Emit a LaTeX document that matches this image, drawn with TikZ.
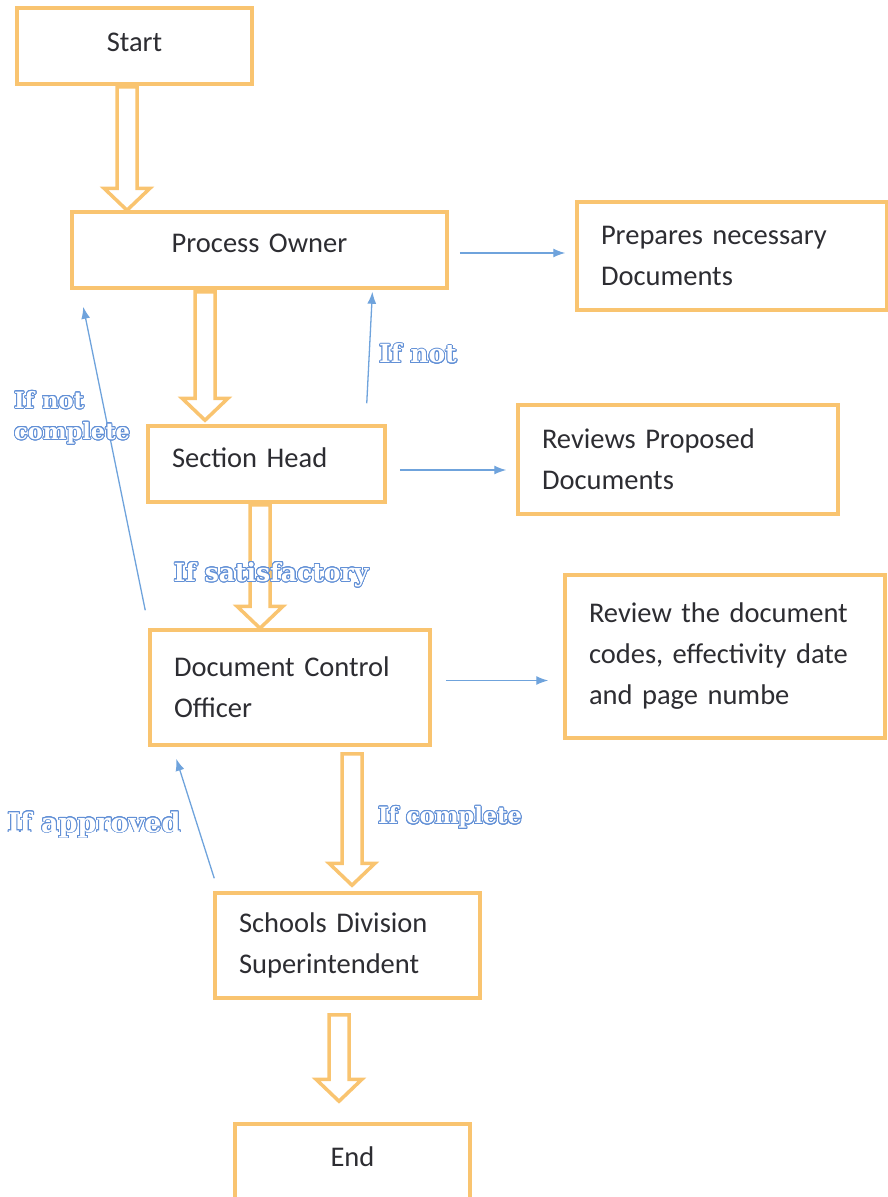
\documentclass[tikz,border=0pt]{standalone}
\usepackage{fontspec}
\setmainfont{Carlito}
\newfontfamily\outlinefont{DejaVu Serif}
\usepackage[copies]{contour}
\usetikzlibrary{arrows.meta,calc}

\definecolor{boxorange}{RGB}{249,196,112}
\definecolor{linkblue}{RGB}{111,163,220}
\definecolor{condblue}{RGB}{98,144,214}
\definecolor{textgray}{RGB}{45,45,50}

\contourlength{0.9pt}
\contournumber{24}
\newcommand{\outl}[1]{\contour{condblue}{\textcolor{white}{#1}}}

% hollow block arrow: from node, to node, x of shaft, gap at top, gap at tip
\newcommand{\fatarrow}[5]{%
  \coordinate (fa-x) at (#3,0);
  \coordinate (fa-a) at ($(#1.south -| fa-x)+(0,#4)$);
  \coordinate (fa-b) at ($(#2.north -| fa-x)+(0,-#5)$);
  \draw[fat] ($(fa-a)+(-10,0)$) -- ($(fa-b)+(-10,-22)$) -- ($(fa-b)+(-23,-22)$)
    -- (fa-b) -- ($(fa-b)+(23,-22)$) -- ($(fa-b)+(10,-22)$) -- ($(fa-a)+(10,0)$) -- cycle;
}

\tikzset{
  box/.style={draw=boxorange, line width=3.5pt, fill=white, inner xsep=24pt,
    inner ysep=0pt, text=textgray, align=left,
    font=\fontsize{28.5}{41}\selectfont},
  raised/.style={text depth=#1},
  raised/.default=12pt,
  link/.style={draw=linkblue, line width=1.3pt, -{Latex[length=12pt,width=9pt]}},
  cond/.style={font=\outlinefont\bfseries\fontsize{#1}{31}\selectfont},
  cond/.default=25,
  fat/.style={draw=boxorange, line width=3.5pt, fill=white, line join=miter},
}

\begin{document}
\begin{tikzpicture}[x=1pt, y=-1pt]
  \useasboundingbox (0,0) rectangle (888,1197);

  % boxes
  \node[box, raised=8pt, align=center, text width=187pt, minimum height=76pt] (start) at (134.5,46) {Start};
  \node[box, raised=14pt, align=center, text width=327pt, minimum height=76pt] (owner) at (259.5,250) {Process Owner};
  \node[box, text width=262pt, minimum height=108pt] (prepare) at (732,256) {Prepares necessary\\Documents};
  \node[box, raised, text width=189pt, minimum height=76pt] (head) at (266.5,464) {Section Head};
  \node[box, text width=272pt, minimum height=109pt] (review) at (678,459.5) {Reviews Proposed\\Documents};
  \node[box, text width=232pt, minimum height=115pt] (dco) at (290,687.5) {Document Control\\Officer};
  \node[box, text width=272pt, minimum height=163pt] (codes) at (725,656.5) {Review the document\\codes, effectivity date\\and page numbe};
  \node[box, text width=217pt, minimum height=105pt] (sds) at (347.5,945.5) {Schools Division\\Superintendent};
  \node[box, raised=10pt, align=center, text width=187pt, minimum height=76pt] (end) at (352.5,1162) {End};

  % main flow
  \fatarrow{start}{owner}{127}{1}{0}
  \fatarrow{owner}{head}{205}{2}{4}
  \fatarrow{head}{dco}{260}{1}{0}
  \fatarrow{dco}{sds}{352}{7}{6}
  \fatarrow{sds}{end}{339}{15}{21}

  % side tasks
  \draw[link, shorten <=11pt, shorten >=10pt] ([yshift=-3pt]owner.east) -- ([yshift=-3pt]owner.east -| prepare.west);
  \draw[link, shorten <=13pt, shorten >=10pt] ([yshift=-6pt]head.east) -- ([yshift=-6pt]head.east -| review.west);
  \draw[link, shorten <=14pt, shorten >=15pt] ([yshift=7pt]dco.east) -- ([yshift=7pt]dco.east -| codes.west);

  % going back
  \draw[link, shorten >=2pt] ([xshift=-20pt,yshift=21pt]head.north east) -- ([xshift=113pt]owner.south);
  \draw[link] ([xshift=-3pt,yshift=18pt]dco.north west) -- ([xshift=13pt,yshift=-17pt]owner.south west);
  \draw[link] ([xshift=1pt,yshift=13pt]sds.north west) -- ([xshift=28pt,yshift=-12pt]dco.south west);

  % conditions
  \node[cond] (notlbl) at (418,354) {\outl{If not}};
  \node[cond=22.5, align=left, anchor=west, inner sep=0pt] (notcomplbl) at (14,418) {\outl{If not}\\\outl{complete}};
  \node[cond] (satlbl) at (271,575) {\outl{If satisfactory}};
  \node[cond=27] (applbl) at (94,825) {\outl{If approved}};
  \node[cond=22.5] (complbl) at (450,818) {\outl{If complete}};
\end{tikzpicture}
\end{document}
